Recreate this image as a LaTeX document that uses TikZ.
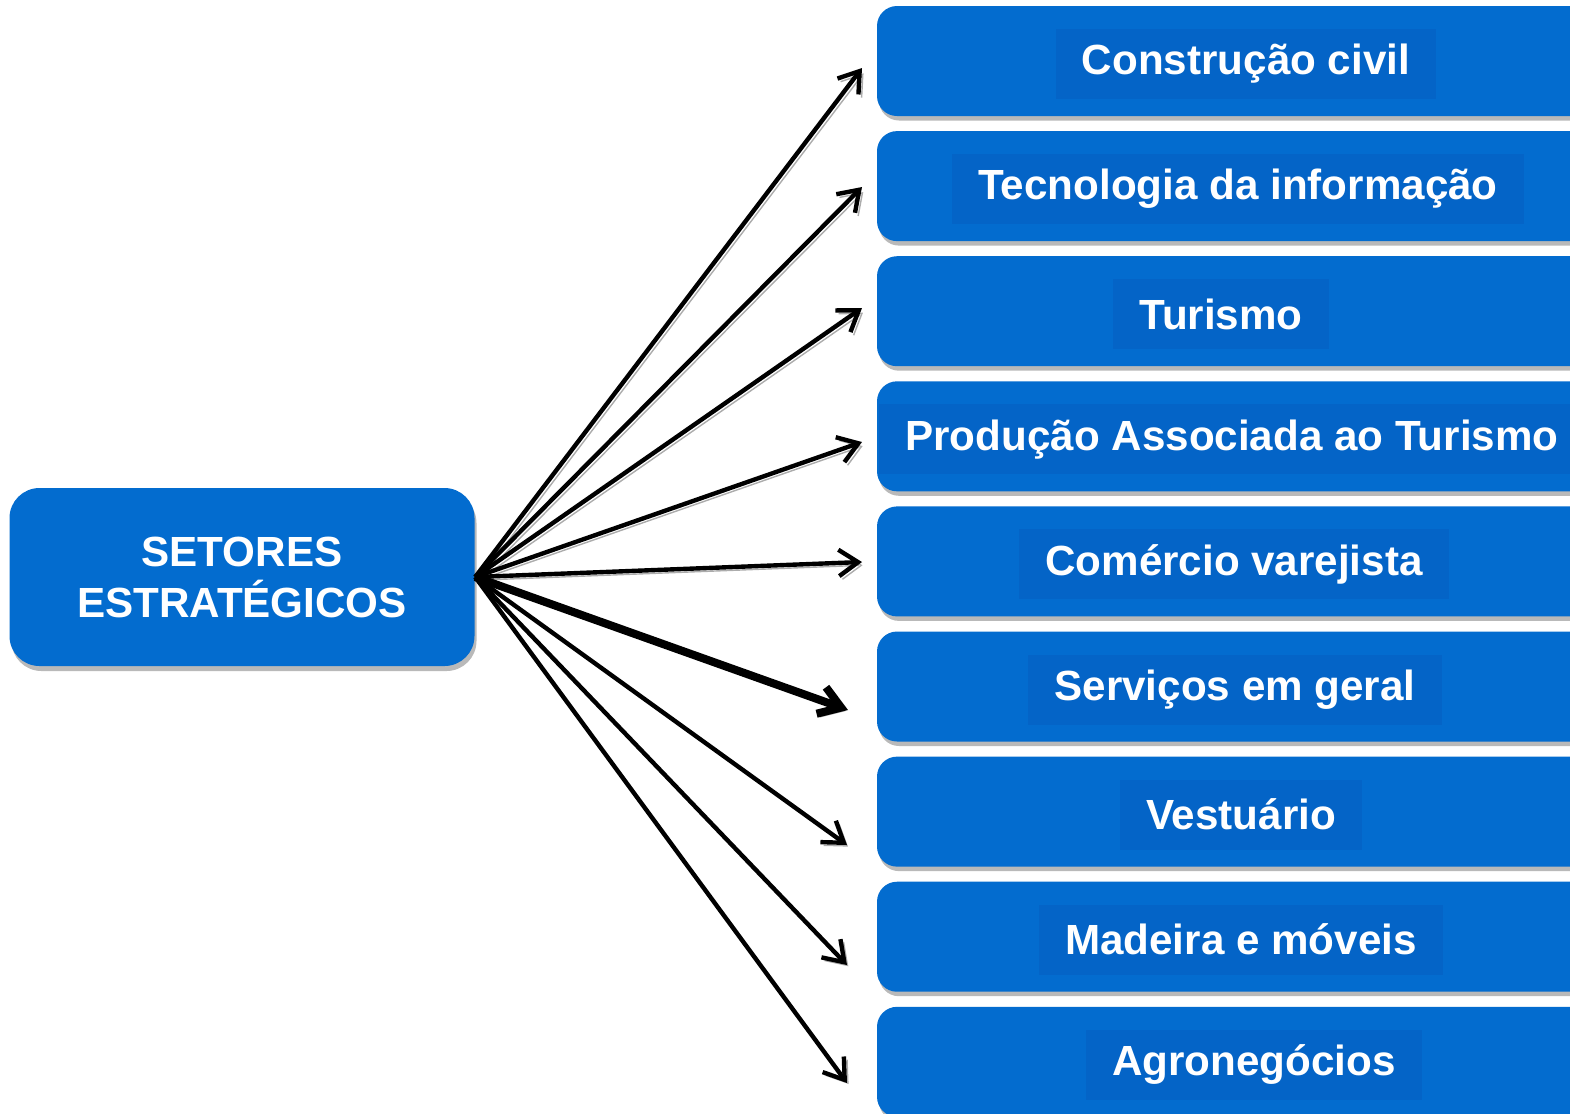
\documentclass[tikz,border=0pt]{standalone}
\usepackage{fontspec}
\setmainfont{Liberation Sans}
\usetikzlibrary{positioning}
\usetikzlibrary{shadows}
\usetikzlibrary{arrows.meta}
\definecolor{boxblue}{RGB}{3,108,207}
\definecolor{labelblue}{RGB}{4,100,199}
\tikzset{
	sector/.style={fill=boxblue, rounded corners=0.2cm, minimum width=7.22cm, minimum height=1.10cm,
		drop shadow={shadow xshift=0.02cm, shadow yshift=-0.045cm, opacity=0.5, fill=black!55}},
	sectorlabel/.style={fill=labelblue, text=white, font=\bfseries\fontsize{12pt}{14.5pt}\selectfont,
		inner xsep=0.26cm, minimum height=0.7cm},
	link/.style={black, line width=1.25pt, -{Straight Barb[length=5.5pt,width=7.5pt]},
		preaction={draw=gray!65, transform canvas={xshift=0.9pt,yshift=-0.9pt}}},
}
\begin{document}
\begin{tikzpicture}
		\useasboundingbox (0,0) rectangle (15.70,-11.13);
		% caixa principal
		\node[fill=boxblue, rounded corners=0.3cm, minimum width=4.65cm, minimum height=1.78cm,
			drop shadow={shadow xshift=0.02cm, shadow yshift=-0.05cm, opacity=0.5, fill=black!55},
			text=white, align=center, font=\bfseries\fontsize{12pt}{14.5pt}\selectfont] at (2.42,-5.77) (sec)
		{SETORES\\ESTRAT\'EGICOS};
		% setores
		\foreach \i/\dx/\txt in {1/0.08/Construção civil, 2/0/Tecnologia da informação, 3/-0.17/Turismo,
			4/-0.06/Produção Associada ao Turismo, 5/-0.04/Comércio varejista, 6/-0.03/Serviços em geral,
			7/0.03/Vestuário, 8/0.03/Madeira e móveis, 9/0.16/Agronegócios}
		{
			\node[sector] at (12.38,{-0.61-1.251*(\i-1)}) (b\i) {};
			\node[sectorlabel] at ([xshift=\dx cm,yshift=-0.03cm]b\i.center) (l\i) {\txt};
		}
		% pontas das setas
		\coordinate (e1) at (8.62,-0.68);
		\coordinate (e2) at (8.62,-1.87);
		\coordinate (e3) at (8.62,-3.08);
		\coordinate (e4) at (8.62,-4.42);
		\coordinate (e5) at (8.62,-5.62);
		\coordinate (e6) at (8.48,-7.10);
		\coordinate (e7) at (8.47,-8.45);
		\coordinate (e8) at (8.47,-9.65);
		\coordinate (e9) at (8.47,-10.83);
		\foreach \i in {1,2,3,4,5,7,8,9}
			\draw[link] (sec.east) to (e\i);
		\draw[link, line width=2.3pt, -{Straight Barb[length=6pt,width=8pt]}] (sec.east) to (e6);
\end{tikzpicture}
\end{document}
